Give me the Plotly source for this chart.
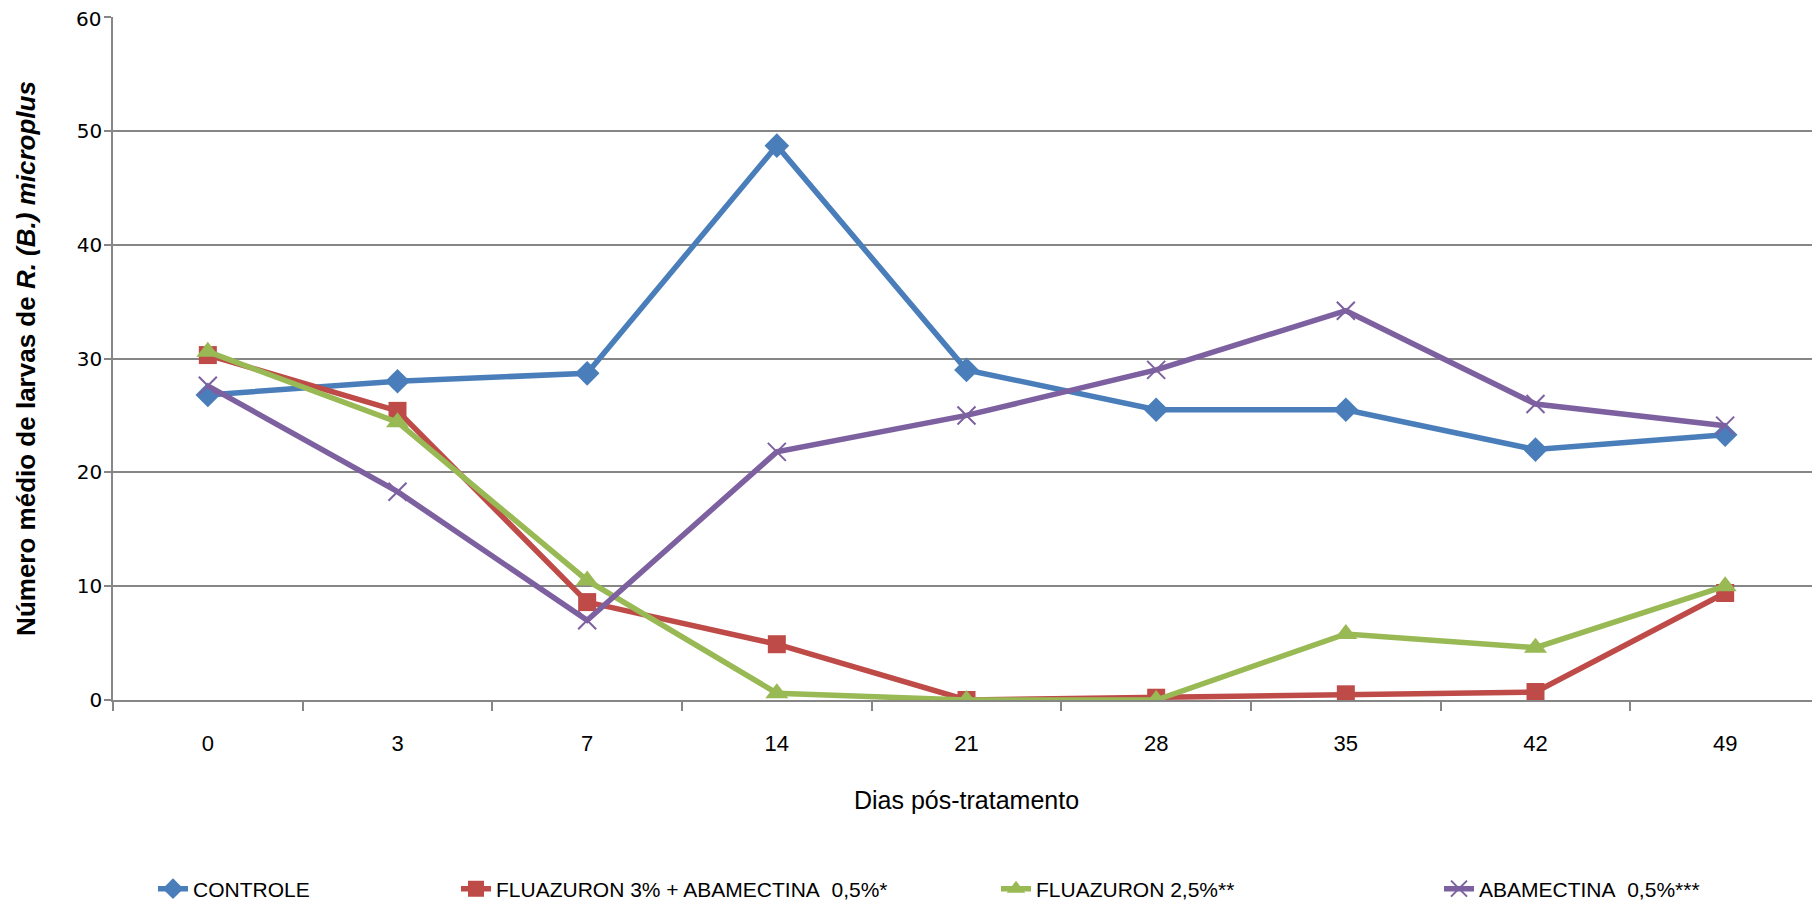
import plotly.graph_objects as go

dias = ["0", "3", "7", "14", "21", "28", "35", "42", "49"]
controle = [26.8, 28.0, 28.7, 48.7, 29.0, 25.5, 25.5, 22.0, 23.3]
fluaz_abam = [30.3, 25.4, 8.6, 4.9, 0.0, 0.2, 0.5, 0.7, 9.4]
fluaz = [30.6, 24.4, 10.5, 0.6, 0.0, 0.0, 5.8, 4.6, 10.0]
abam = [27.6, 18.3, 7.0, 21.8, 25.0, 29.0, 34.2, 26.0, 24.1]
y_ticks = [0, 10, 20, 30, 40, 50, 60]

names = ["CONTROLE", "FLUAZURON 3% + ABAMECTINA\u00a0 0,5%*", "FLUAZURON 2,5%**", "ABAMECTINA\u00a0 0,5%***"]
colors = ["#4A7EBB", "#BE4B48", "#98B954", "#7D60A0"]
symbols = ["diamond", "square", "triangle-up", "x-thin-open"]
sizes = [19, 18, 20, 18]
series = [controle, fluaz_abam, fluaz, abam]

FONT = "Liberation Sans, Arial, sans-serif"
TICKFONT = dict(family="DejaVu Sans", size=20, color="#000000")

# page has an 8px body margin; figure is laid out in its own coordinates
OFF = 8
W, H = 1820 - OFF, 904 - OFF
L, R, T = 113 - OFF, 0, 17 - OFF
plot_bottom = 700 - OFF
B = H - plot_bottom
pw = W - L - R
ph = plot_bottom - T

legend_text_page_x = [194, 497, 1037, 1480]
legend_y_page = 889

fig = go.Figure()
for i, (nm, col, sym, sz, ys) in enumerate(zip(names, colors, symbols, sizes, series)):
    lg = "legend" if i == 0 else f"legend{i+1}"
    fig.add_trace(go.Scatter(
        x=dias, y=ys, name=nm, mode="lines+markers",
        line=dict(color=col, width=5.5),
        marker=dict(symbol=sym, size=sz, color=col,
                    line=dict(color=col, width=2 if sym.startswith("x") else 0)),
        legend=lg,
    ))

layout_legends = {}
for i, tx in enumerate(legend_text_page_x):
    key = "legend" if i == 0 else f"legend{i+1}"
    fx = tx - OFF - 41
    layout_legends[key] = dict(
        x=(fx - L) / pw, xanchor="left",
        y=-((legend_y_page - OFF) - plot_bottom) / ph, yanchor="middle",
        orientation="h", font=dict(family=FONT, size=21, color="#000000"),
        bgcolor="rgba(0,0,0,0)", itemwidth=30,
    )

fig.update_layout(
    width=W, height=H,
    margin=dict(l=L, r=R, t=T, b=B, autoexpand=False),
    paper_bgcolor="white", plot_bgcolor="white",
    showlegend=True,
    **layout_legends,
)

# top tick label drawn as annotation so it stays inside the page
top_val = y_ticks[-1]
fig.add_annotation(
    x=0, xref="paper", y=top_val, yref="y", xanchor="right", yanchor="middle",
    text=str(top_val), showarrow=False, font=TICKFONT, xshift=-10, yshift=-2,
)

fig.update_xaxes(
    type="category", tickson="boundaries", ticks="outside", ticklen=9,
    tickcolor="#868686", tickwidth=1.5,
    showline=True, linecolor="#868686", linewidth=1.5,
    showgrid=False, automargin=False,
    tickfont=dict(family=FONT, size=22, color="#000000"),
    ticklabelstandoff=23,
    range=[-0.5, 8.5],
    title=dict(text="Dias pós-tratamento", font=dict(family=FONT, size=25, color="#000000"), standoff=36),
)
fig.update_yaxes(
    range=[0, 60], tickmode="array", tickvals=y_ticks,
    ticktext=[str(v) for v in y_ticks[:-1]] + [""],
    ticks="outside", ticklen=7,
    tickcolor="#868686", tickwidth=1.5,
    showline=True, linecolor="#868686", linewidth=1.5,
    showgrid=True, gridcolor="#868686", gridwidth=1.5,
    zeroline=False, automargin=False, ticklabeloverflow="allow",
    tickfont=TICKFONT,
    ticklabelstandoff=-2,
    title=dict(text="<b>Número médio de larvas de <i>R. (B.) microplus</i></b>",
               font=dict(family=FONT, size=26, color="#000000"), standoff=34),
)

fig.write_html("out.html")
